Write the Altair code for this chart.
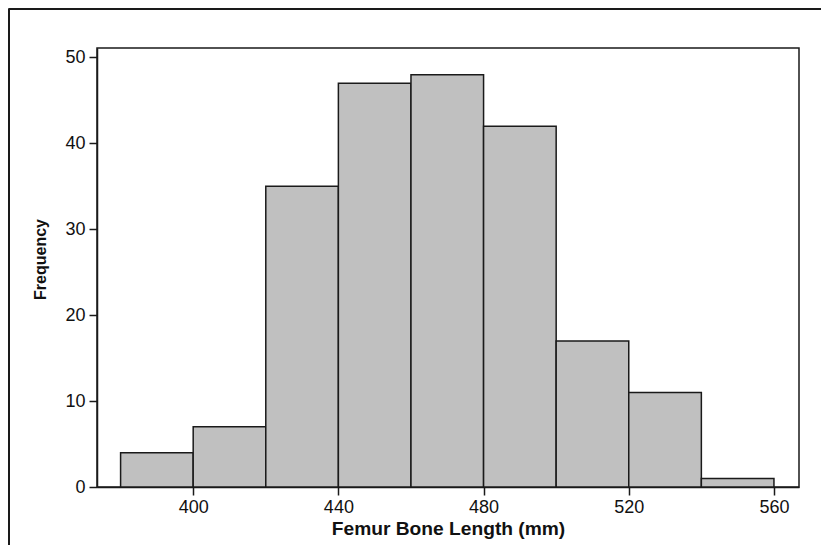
import altair as alt
import pandas as pd

bin_start = [380, 400, 420, 440, 460, 480, 500, 520, 540]
bin_end = [400, 420, 440, 460, 480, 500, 520, 540, 560]
counts = [4, 7, 35, 47, 48, 42, 17, 11, 1]
x_ticks = [400, 440, 480, 520, 560]
y_ticks = [0, 10, 20, 30, 40, 50]

df = pd.DataFrame({"start": bin_start, "end": bin_end, "count": counts})

FONT = "Liberation Sans"

bars = alt.Chart(df).mark_rect(
    fill="#c0c0c0", stroke="#1a1a1a", strokeWidth=1.5
).encode(
    x=alt.X(
        "start:Q",
        scale=alt.Scale(domain=[373.5, 566.9], nice=False, zero=False),
        axis=alt.Axis(
            values=x_ticks, title="Femur Bone Length (mm)", grid=False,
            tickSize=8, tickColor="#1a1a1a", tickWidth=1.5,
            domainColor="#1a1a1a", domainWidth=1.5,
            labelFont=FONT, labelFontSize=18, labelColor="#111", labelPadding=3,
            titleFont=FONT, titleFontSize=19.2, titleFontWeight="bold", titleColor="#111",
            titleY=32, labelFlush=False,
        ),
    ),
    x2="end:Q",
    y=alt.Y(
        "count:Q",
        scale=alt.Scale(domain=[0, 51.1], nice=False),
        axis=alt.Axis(
            values=y_ticks, title="Frequency", grid=False,
            tickSize=8, tickColor="#1a1a1a", tickWidth=1.5,
            domainColor="#1a1a1a", domainWidth=1.5,
            labelFont=FONT, labelFontSize=18, labelColor="#111", labelPadding=4,
            titleFont=FONT, titleFontSize=16,
            titleFontWeight="bold", titleColor="#111",
            titleX=-49, titleY=211, labelFlush=False,
        ),
    ),
    y2=alt.datum(0),
)

left_border = alt.Chart(df).mark_rule(color="#1a1a1a", strokeWidth=1.5).encode(
    x=alt.value(-88.25), y=alt.value(-38.7), y2=alt.value(560)
)
top_border = alt.Chart(df).mark_rule(color="#1a1a1a", strokeWidth=1.5).encode(
    x=alt.value(-88.25), x2=alt.value(760), y=alt.value(-38.7)
)

chart = alt.layer(bars, left_border, top_border).properties(
    width=702, height=439,
    padding={"left": 89, "top": 40, "right": 22, "bottom": 58},
    autosize=alt.AutoSizeParams(type="none"),
    background="white",
).configure_view(
    stroke="#1a1a1a", strokeWidth=1.5
)

chart.save("out.html", embed_options={"renderer": "svg", "actions": False})
